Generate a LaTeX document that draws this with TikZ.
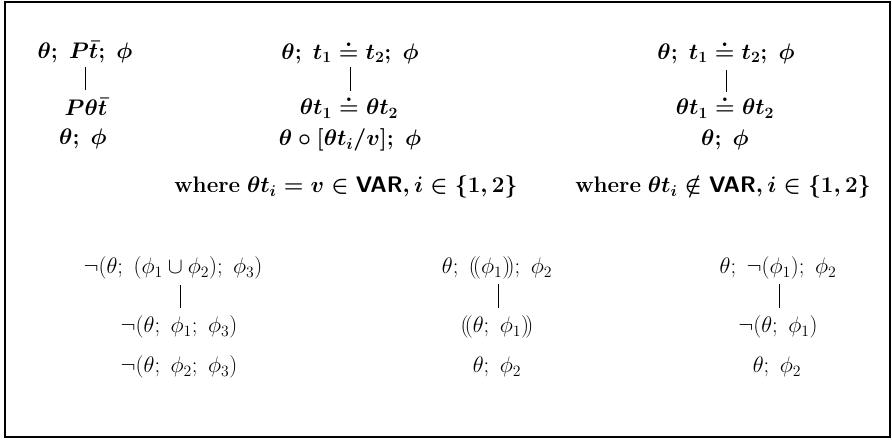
\RequirePackage{fix-cm}
\documentclass[tikz,border=0pt]{standalone}
\usepackage{amssymb}
\begin{document}
\begin{tikzpicture}[x=1pt,y=-1pt,
  f/.style={inner sep=1pt,font=\fontsize{22.5}{26}\selectfont\boldmath},
  g/.style={inner sep=1pt,font=\fontsize{22.5}{26}\selectfont},
  conn/.style={line width=0.8pt},
  frame/.style={line width=1.5pt}]
\useasboundingbox (0,0) rectangle (892,440);
\draw[frame] (5,2) rectangle (890,437);
% top left
\node[f] (a1) at (85,52) {$\theta;\ P\bar{t};\ \phi$};
\node[f] (a2) at (86,107) {$P\theta\bar{t}$};
\node[f] (a3) at (83,139) {$\theta;\ \phi$};
\coordinate (ka) at (85,67);
\coordinate (kb) at (85,90);
\draw[conn] (ka) -- (kb);
% top middle
\node[f] (b1) at (350,52) {$\theta;\ t_1\doteq t_2;\ \phi$};
\node[f] (b2) at (349,107) {$\theta t_1\doteq \theta t_2$};
\node[f] (b3) at (350,140) {$\theta\circ[\theta t_i/v];\ \phi$};
\coordinate (kc) at (350,67);
\coordinate (kd) at (350,91);
\draw[conn,line width=0.5pt] (kc) -- (kd);
% top right
\node[f] (c1) at (726,52) {$\theta;\ t_1\doteq t_2;\ \phi$};
\node[f] (c2) at (725,107) {$\theta t_1\doteq \theta t_2$};
\node[f] (c3) at (725,140) {$\theta;\ \phi$};
\coordinate (ke) at (726,70);
\coordinate (kf) at (726,92);
\draw[conn] (ke) -- (kf);
% where texts
\node[f] (w1) at (346,187) {\textbf{where} $\theta t_i = v\in\mathsf{VAR}, i\in\{1,2\}$};
\node[f] (w2) at (723,187) {\textbf{where} $\theta t_i \notin\mathsf{VAR}, i\in\{1,2\}$};
% bottom left
\node[g] (d1) at (173,268) {$\neg(\theta;\ (\phi_1\cup\phi_2);\ \phi_3)$};
\node[g] (d2) at (179,327) {$\neg(\theta;\ \phi_1;\ \phi_3)$};
\node[g] (d3) at (179,367) {$\neg(\theta;\ \phi_2;\ \phi_3)$};
\coordinate (kg) at (180,285);
\coordinate (kh) at (180,308);
\draw[conn] (kg) -- (kh);
% bottom middle
\node[g] (e1) at (497,268) {$\theta;\ (\!(\phi_1)\!);\ \phi_2$};
\node[g] (e2) at (497,327) {$(\!(\theta;\ \phi_1)\!)$};
\node[g] (e3) at (497,367) {$\theta;\ \phi_2$};
\coordinate (ki) at (498,284);
\coordinate (kj) at (498,308);
\draw[conn] (ki) -- (kj);
% bottom right
\node[g] (g1) at (778,268) {$\theta;\ \neg(\phi_1);\ \phi_2$};
\node[g] (g2) at (778,327) {$\neg(\theta;\ \phi_1)$};
\node[g] (g3) at (777,367) {$\theta;\ \phi_2$};
\coordinate (kk) at (779,284);
\coordinate (kl) at (779,308);
\draw[conn] (kk) -- (kl);
\end{tikzpicture}
\end{document}
